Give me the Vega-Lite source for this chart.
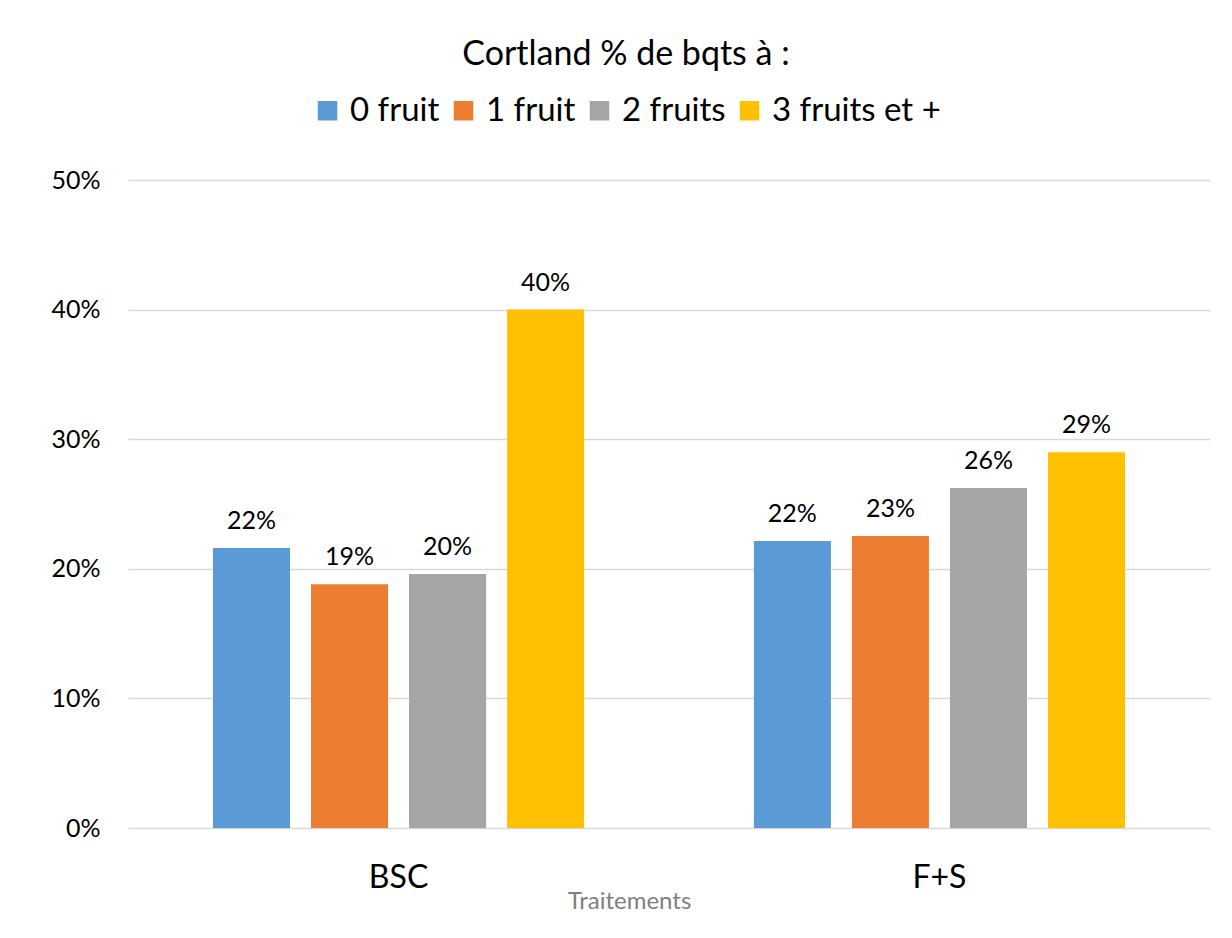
{
  "$schema": "https://vega.github.io/schema/vega-lite/v6.json",
  "width": 1082,
  "height": 648,
  "autosize": {"type": "none"},
  "padding": {"left": 128, "top": 180, "right": 22, "bottom": 110},
  "background": "white",
  "config": {"font": "Lato", "view": {"stroke": null}},
  "data": {
    "values": [
      {"Traitement": "BSC", "Bouquet": "0 fruit", "Pct": 0.216},
      {"Traitement": "BSC", "Bouquet": "1 fruit", "Pct": 0.188},
      {"Traitement": "BSC", "Bouquet": "2 fruits", "Pct": 0.196},
      {"Traitement": "BSC", "Bouquet": "3 fruits et +", "Pct": 0.400},
      {"Traitement": "F+S", "Bouquet": "0 fruit", "Pct": 0.2215},
      {"Traitement": "F+S", "Bouquet": "1 fruit", "Pct": 0.2253},
      {"Traitement": "F+S", "Bouquet": "2 fruits", "Pct": 0.2623},
      {"Traitement": "F+S", "Bouquet": "3 fruits et +", "Pct": 0.290}
    ]
  },
  "encoding": {
    "x": {
      "field": "Traitement",
      "type": "nominal",
      "sort": ["BSC", "F+S"],
      "scale": {"paddingInner": 0.275, "paddingOuter": 0.1377},
      "axis": {
        "title": "Traitements",
        "labelAngle": 0,
        "labelFontSize": 32,
        "labelColor": "black",
        "labelPadding": 34,
        "ticks": false,
        "domain": false,
        "titleFontSize": 24,
        "titleColor": "#808080",
        "titleFontWeight": "normal",
        "titleX": 501,
        "titleY": 80,
        "titleAlign": "center",
        "titleBaseline": "alphabetic"
      }
    },
    "xOffset": {
      "field": "Bouquet",
      "type": "nominal",
      "sort": ["0 fruit", "1 fruit", "2 fruits", "3 fruits et +"],
      "scale": {"paddingInner": 0.2143, "paddingOuter": 0.1071}
    },
    "y": {
      "field": "Pct",
      "type": "quantitative",
      "scale": {"domain": [0, 0.5]},
      "axis": {
        "title": null,
        "format": ".0%",
        "values": [0, 0.1, 0.2, 0.3, 0.4, 0.5],
        "gridColor": "#D9D9D9",
        "gridWidth": 1.5,
        "domain": false,
        "ticks": false,
        "labelFontSize": 25,
        "labelColor": "black",
        "labelPadding": 28
      }
    }
  },
  "layer": [
    {
      "mark": {"type": "bar"},
      "encoding": {
        "color": {
          "field": "Bouquet",
          "type": "nominal",
          "sort": ["0 fruit", "1 fruit", "2 fruits", "3 fruits et +"],
          "scale": {
            "domain": ["0 fruit", "1 fruit", "2 fruits", "3 fruits et +"],
            "range": ["#5B9BD5", "#ED7D31", "#A5A5A5", "#FFC000"]
          },
          "legend": {
            "title": "Cortland % de bqts à :",
            "orient": "none",
            "legendX": 183,
            "legendY": -142,
            "direction": "horizontal",
            "padding": 0,
            "titleOrient": "top",
            "titleAnchor": "middle",
            "titleFontSize": 34,
            "titleFontWeight": "normal",
            "titleColor": "black",
            "titlePadding": 22,
            "titleLimit": 1000,
            "labelFontSize": 33,
            "labelColor": "black",
            "labelLimit": 500,
            "labelOffset": 6,
            "columnPadding": 7,
            "symbolType": "square",
            "symbolSize": 380,
            "symbolStrokeWidth": 0,
            "symbolOpacity": 1
          }
        }
      }
    },
    {
      "mark": {"type": "text", "dy": -19, "baseline": "alphabetic", "fontSize": 25, "color": "black"},
      "encoding": {
        "text": {"field": "Pct", "type": "quantitative", "format": ".0%"}
      }
    }
  ]
}
